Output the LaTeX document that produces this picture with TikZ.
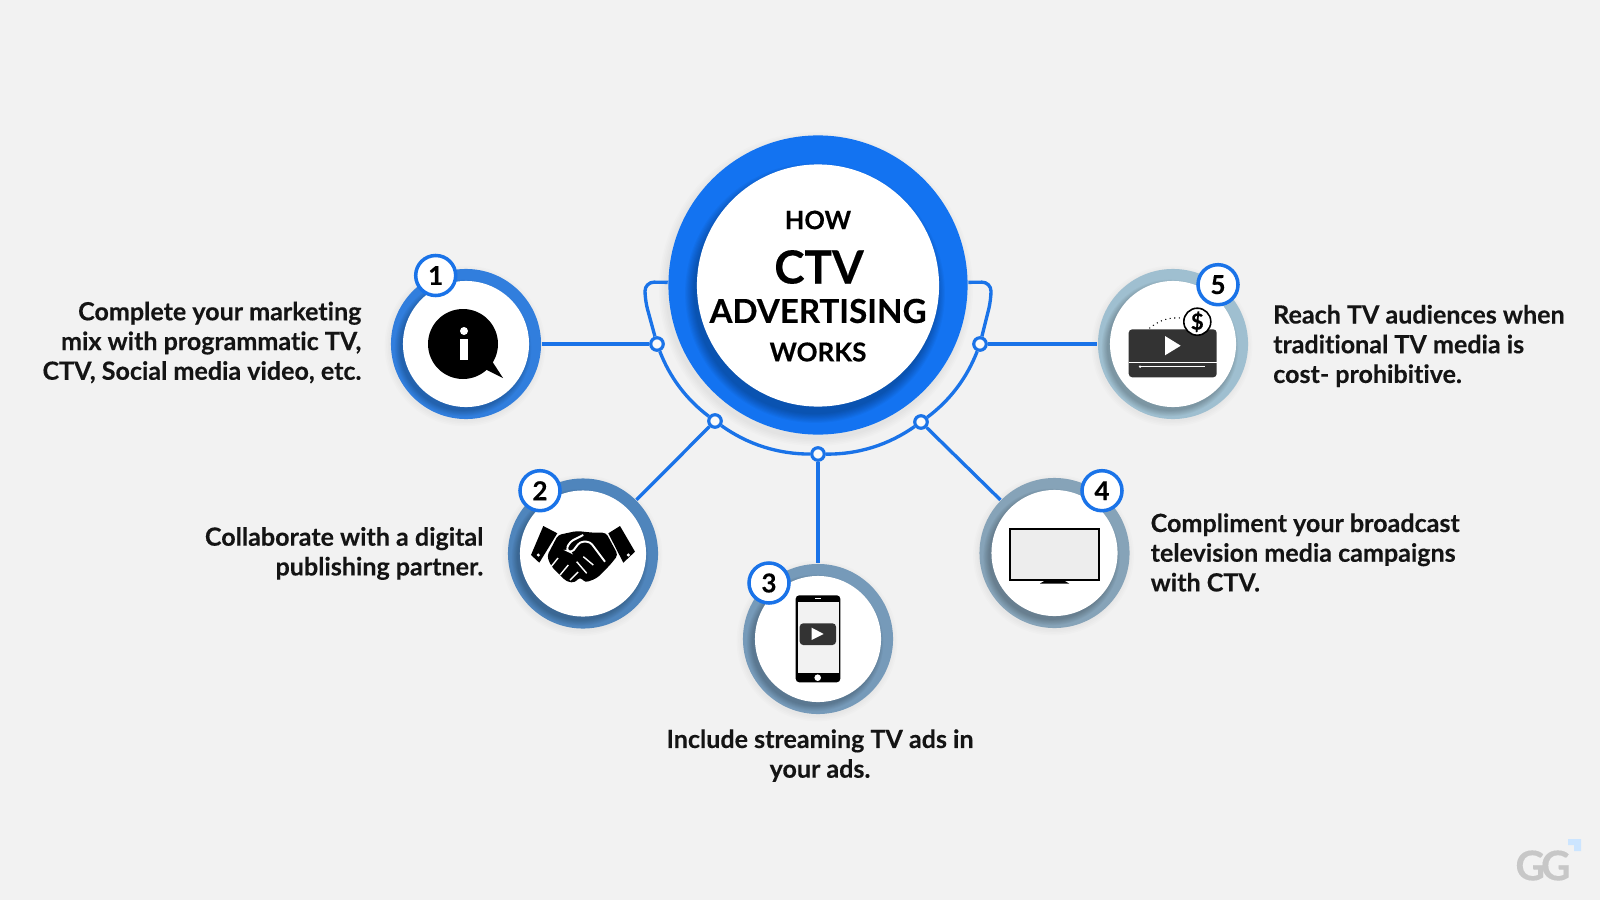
\documentclass[tikz,border=0pt]{standalone}
\usepackage{fontspec}
\setmainfont[Ligatures=NoCommon, BoldFeatures={FakeBold=0.25}]{Lato}
\usepackage{xcolor}
\usetikzlibrary{calc}
\definecolor{paper}{HTML}{F2F2F2}
\definecolor{wireblue}{HTML}{1A73E8}
\definecolor{hubblue}{HTML}{1373F1}
\definecolor{ringa}{HTML}{317EDD}
\definecolor{ringb}{HTML}{4F85BC}
\definecolor{ringc}{HTML}{769AB9}
\definecolor{ringd}{HTML}{86A3B8}
\definecolor{ringe}{HTML}{9FBFD0}
\definecolor{inkdark}{HTML}{333333}
\tikzset{
  wire/.style={draw=wireblue, line width=0.95pt},
  joint/.style={circle, draw=wireblue, fill=paper!40!white, line width=0.9pt, inner sep=0pt, minimum size=0.125cm},
  ring/.style={circle, inner sep=0pt, minimum size=1.5cm},
  disc/.style={circle, fill=white, inner sep=0pt, minimum size=1.26cm},
  badge/.style={circle, draw=wireblue, fill=white, line width=1pt, inner sep=0pt,
    minimum size=0.4cm, font=\fontsize{7.4}{8}\selectfont\bfseries},
  caption/.style={inner sep=0pt, text=black!92, font=\fontsize{7.13}{8.45}\selectfont\bfseries}
}
\begin{document}
\begin{tikzpicture}[x=0.01cm, y=-0.01cm]
  \useasboundingbox (0,0) rectangle (1600,900);
  \fill[paper] (0,0) rectangle (1600,900);

  % centre
  \foreach \i in {1,...,5}
    \fill[black, opacity=0.01] (816,289) circle ({149+\i*1.6});
  \node[circle, fill=hubblue, inner sep=0pt, minimum size=2.99cm] (hub) at (818,285) {};
  \begin{scope}
    \clip (818,285) circle (149.5);
    \foreach \i in {1,...,9}
      \fill[black, opacity=0.03] (815,293) circle ({120+\i*1.1});
  \end{scope}
  \node[circle, fill=white, inner sep=0pt, minimum size=2.42cm] (hubdisc) at (818,285.5) {};
  \node (how) at (818,220) {\fontsize{7.2}{8}\selectfont\bfseries HOW};
  \node (ctv) at (819,267) {\fontsize{13}{14}\selectfont\bfseries CTV};
  \node (adv) at (818,311) {\fontsize{9.4}{10}\selectfont\bfseries ADVERTISING};
  \node (works) at (818,352) {\fontsize{7.4}{8}\selectfont\bfseries WORKS};

  % the five rings
  \foreach \name/\x/\y/\col in {ringone/466/344/ringa, ringtwo/583/553.5/ringb,
      ringthree/818/639/ringc, ringfour/1054.5/553/ringd, ringfive/1173/344/ringe} {
    \foreach \i in {1,...,4}
      \fill[black, opacity=0.01] (\x-1,\y+2) circle ({74+\i*1.6});
    \node[ring, fill=\col] (\name) at (\x,\y) {};
    \begin{scope}
      \clip (\x,\y) circle (75);
      \foreach \i in {1,...,7}
        \fill[black, opacity=0.03] (\x-3,\y+4) circle ({62+\i*0.9});
    \end{scope}
    \node[disc] (\name disc) at (\x,\y) {};
  }

  % junctions on the arc
  \node[joint] (jone) at (657,344) {};
  \node[joint] (jtwo) at (715,421) {};
  \node[joint] (jthree) at (818,454) {};
  \node[joint] (jfour) at (921,422) {};
  \node[joint] (jfive) at (980,344) {};

  \draw[wire] (jone) to[bend right=16, looseness=0.88] (jtwo);
  \draw[wire] (jtwo) to[bend right=18, looseness=0.88] (jthree);
  \draw[wire] (jthree) to[bend right=18, looseness=0.88] (jfour);
  \draw[wire] (jfour) to[bend right=16, looseness=0.88] (jfive);
  \coordinate (armleft) at (645,282);
  \coordinate (armright) at (991,282);
  \draw[wire, rounded corners=2.6pt] (hub.179) -- (armleft) -- (645,300) -- (jone);
  \draw[wire, rounded corners=2.6pt] (hub.1) -- (armright) -- (991,300) -- (jfive);

  \draw[wire] (jone) -- (ringone);
  \draw[wire] (jtwo) -- (ringtwo);
  \draw[wire] (jthree) -- (ringthree);
  \draw[wire] (jfour) -- (ringfour);
  \draw[wire] (jfive) -- (ringfive);

  % info bubble
  \fill[black] (463,344) circle (35);
  \fill[black] (483,368) -- (503,378) -- (490,358) -- cycle;
  \fill[white] (464,331) circle (4);
  \fill[white] (460,339) rectangle (468,360);

  % handshake
  \fill[black] (543.3,526) -- (557.3,533.3) -- (539.3,562.7) -- (531,555) -- cycle;
  \fill[black] (620,526) -- (635,551.7) -- (623.3,562.7) -- (608.3,533.3) -- cycle;
  \fill[black, rounded corners=1pt] (558,535) -- (576.7,531) -- (593.3,532.7) -- (606,532.7)
    -- (618,555) -- (610,565) -- (596.7,578.3) -- (585,582.7) -- (580,576.7) -- (575,582.7)
    -- (566.7,581.7) -- (551,566) -- (547,556) -- cycle;
  \draw[white, line width=0.55pt, rounded corners=1pt] (583.3,535) -- (570,541.7) -- (566,550)
    -- (571.7,552.7) -- (580,541.7) -- (590,541.7) -- (605,561.7);
  \draw[white, line width=0.4pt] (593.3,565) -- (583.3,556.7) (586.7,573.3) -- (576.7,561.7)
    (558,558) -- (550,568) (568.3,565) -- (560,575) (578,572) -- (570,580);
  \fill[white] (538.3,555) circle (1.7) (628.3,555) circle (1.7);

  % phone
  \fill[black, rounded corners=1pt] (795.7,595.3) rectangle (840.3,682.3);
  \fill[paper] (797.7,601.7) rectangle (838.7,673.3);
  \fill[white] (817.7,677.7) circle (3.3);
  \draw[white, line width=0.3pt] (815,598.3) -- (820.5,598.3);
  \fill[inkdark, rounded corners=1pt] (799.7,623.3) rectangle (836,645);
  \fill[white] (811.7,627.7) -- (811.7,640) -- (823.7,634) -- cycle;

  % television
  \draw[black, fill=black!7, line width=0.5pt] (1010,529.3) rectangle (1099,580);
  \fill[black] (1046,580) -- (1063.3,580) -- (1069,583.5) -- (1040,583.5) -- cycle;

  % video with coin
  \fill[inkdark, rounded corners=1pt] (1128.7,329.3) rectangle (1216.7,377.3);
  \fill[white] (1165,336) -- (1165,355.3) -- (1180.7,345.7) -- cycle;
  \draw[white, line width=0.3pt] (1128.7,362.7) -- (1216.7,362.7);
  \draw[white, line width=0.25pt] (1140,366.7) -- (1205,366.7);
  \fill[white] (1140,366.7) circle (1.3);
  \node[circle, draw=black, fill=white, line width=0.45pt, inner sep=0pt, minimum size=0.27cm,
    font=\fontsize{6.3}{6}\selectfont\bfseries] (coin) at (1197.3,321.7) {\$};
  \coordinate (coinstart) at (1149.3,328.3);
  \draw[black, line width=0.3pt, densely dotted] (coinstart) to[bend left=22] (coin);

  % numbers
  \node[badge] (badgeone) at (435.7,275.5) {1};
  \node[badge] (badgetwo) at (540,490.7) {2};
  \node[badge] (badgethree) at (769,583) {3};
  \node[badge] (badgefour) at (1102,490.7) {4};
  \node[badge] (badgefive) at (1218,284.7) {5};

  % captions
  \node[caption, anchor=east, align=right] (capone) at (362,342.5)
    {Complete your marketing\\mix with programmatic TV,\\CTV, Social media video, etc.};
  \node[caption, anchor=east, align=right] (captwo) at (484,553.5)
    {Collaborate with a digital\\publishing partner.};
  \node[caption, align=center] (capthree) at (820,755.6)
    {Include streaming TV ads in\\your ads.};
  \node[caption, anchor=west, align=left] (capfour) at (1150,552.5)
    {Compliment your broadcast\\television media campaigns\\with CTV.};
  \node[caption, anchor=west, align=left] (capfive) at (1272.5,346)
    {Reach TV audiences when\\traditional TV media is\\cost- prohibitive.};

  % logo
  \node[text=black!22, inner sep=0pt, font=\fontsize{11.6}{11}\selectfont\bfseries] (logo) at (1543,865.5)
    {G\kern-0.1em G};
  \fill[blue!50!cyan!20] (1568,839) -- (1581,839) -- (1581,851) -- (1574,851) -- (1574,845) -- (1568,845) -- cycle;
\end{tikzpicture}
\end{document}
